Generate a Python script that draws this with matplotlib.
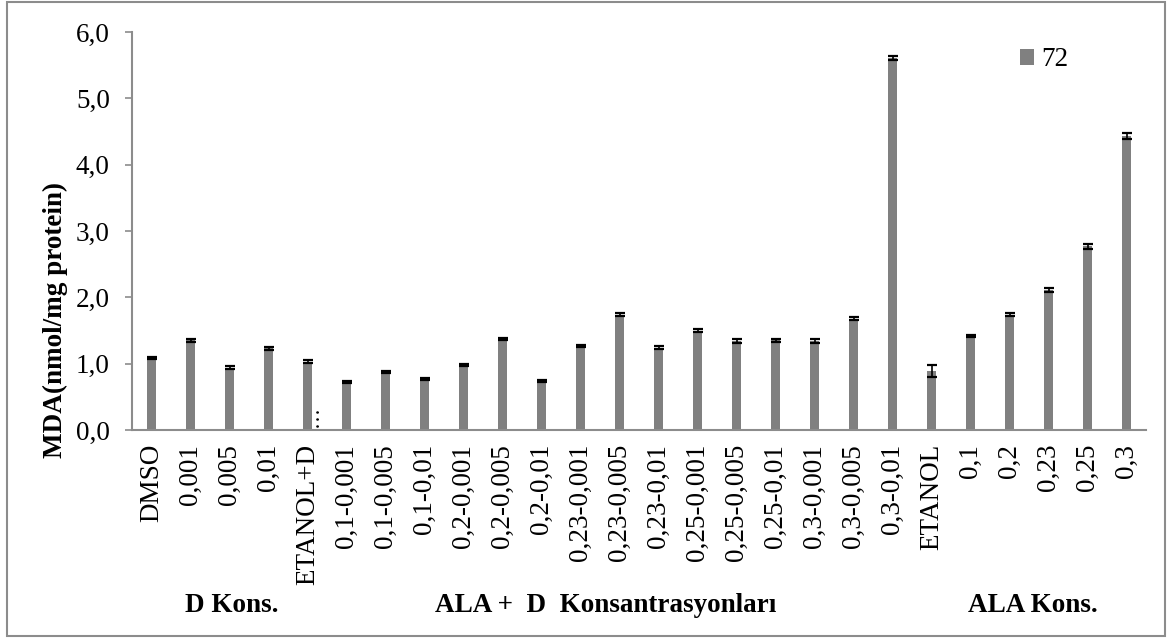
import matplotlib.pyplot as plt
from matplotlib.patches import Rectangle

plt.rcParams['font.family'] = ['Liberation Serif', 'DejaVu Serif']

# kategoriler ve MDA degerleri
kategoriler = ["DMSO", "0,001", "0,005", "0,01", "ETANOL+D",
               "0,1-0,001", "0,1-0,005", "0,1-0,01",
               "0,2-0,001", "0,2-0,005", "0,2-0,01",
               "0,23-0,001", "0,23-0,005", "0,23-0,01",
               "0,25-0,001", "0,25-0,005", "0,25-0,01",
               "0,3-0,001", "0,3-0,005", "0,3-0,01",
               "ETANOL", "0,1", "0,2", "0,23", "0,25", "0,3"]
mda_72 = [1.08, 1.35, 0.94, 1.23, 1.03,
          0.72, 0.88, 0.77,
          0.98, 1.37, 0.74,
          1.26, 1.74, 1.24,
          1.50, 1.34, 1.35,
          1.34, 1.68, 5.61,
          0.89, 1.42, 1.74, 2.11, 2.77, 4.43]
hata_72 = [0.015, 0.02, 0.025, 0.02, 0.02,
           0.015, 0.015, 0.015,
           0.015, 0.02, 0.02,
           0.015, 0.025, 0.025,
           0.025, 0.025, 0.025,
           0.025, 0.025, 0.025,
           0.09, 0.015, 0.025, 0.03, 0.035, 0.045]
y_ticks = [0, 1, 2, 3, 4, 5, 6]
grup_etiketleri = ["D Kons.", "ALA +  D  Konsantrasyonları", "ALA Kons."]
grup_x = [232, 606, 1033]  # piksel, yatay merkez

W, H = 1169, 639
fs = 19.5
fig = plt.figure(figsize=(W / 100, H / 100), dpi=100)
ax = fig.add_axes([132 / W, 1 - 430 / H, (1146 - 132) / W, (430 - 32) / H])

gri = "#808080"
kenar = "#8c8c8c"
x = list(range(len(kategoriler)))
ax.bar(x, mda_72, width=0.24, color=gri, label="72", zorder=2)
ax.errorbar(x, mda_72, yerr=hata_72, fmt='none', ecolor='black',
            elinewidth=1.2, capsize=3.6, capthick=1.6, zorder=3)

ax.set_xlim(-0.5, len(kategoriler) - 0.5)
ax.set_ylim(0, 6)
ax.set_yticks(y_ticks)
ax.set_yticklabels([f"{v:.1f}".replace(".", ",") for v in y_ticks])
ax.set_xticks(x)
ax.set_xticklabels(kategoriler, rotation=90)
ax.tick_params(axis='x', length=0, pad=10, labelsize=fs)
ax.tick_params(axis='y', length=5, width=1.2, color=kenar, pad=11, labelsize=fs)
for s in ['top', 'right']:
    ax.spines[s].set_visible(False)
for s in ['left', 'bottom']:
    ax.spines[s].set_color(kenar)
    ax.spines[s].set_linewidth(1.5)

# ETANOL+D etiketinin kesik noktalari
ax.annotate("…", xy=(4, 0), xytext=(6, 3), textcoords='offset pixels',
            rotation=90, ha='center', va='bottom', fontsize=15)

ax.set_ylabel("MDA(nmol/mg protein)", fontsize=fs, fontweight='bold')
ax.yaxis.set_label_coords(68 / W, 0.5, transform=fig.transFigure)

for etiket, gx in zip(grup_etiketleri, grup_x):
    fig.text(gx / W, 1 - 605 / H, etiket, ha='center', va='center',
             fontsize=fs, fontweight='bold')

ax.legend(frameon=False, loc='center left', bbox_to_anchor=(1006 / W, 1 - 60 / H),
          bbox_transform=fig.transFigure, borderpad=0, handlelength=0.55,
          handleheight=0.55, handletextpad=0.25, fontsize=fs)

fig.patches.append(Rectangle((7 / W, 1 - 636 / H), (1165 - 7) / W, (636 - 2) / H,
                             transform=fig.transFigure, fill=False,
                             edgecolor=kenar, linewidth=1.5))

fig.savefig("out.png", dpi=100)
